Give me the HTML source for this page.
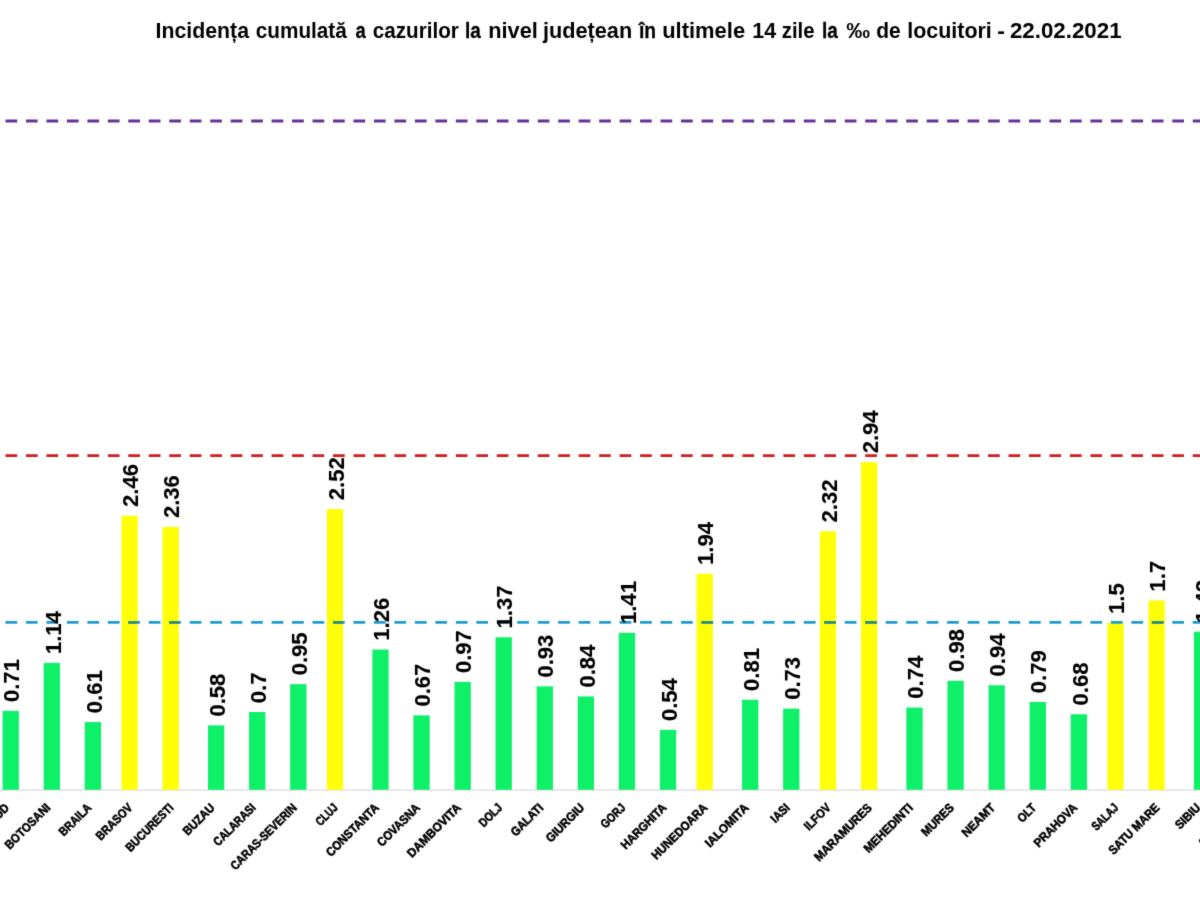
<!DOCTYPE html>
<html lang="ro"><head><meta charset="utf-8"><title>Incidenta cumulata</title>
<style>html,body{margin:0;padding:0;background:#fff;}body{width:1200px;height:900px;overflow:hidden;}svg{display:block;}text{font-family:"Liberation Sans",sans-serif;font-weight:bold;fill:#000;}</style>
</head><body>
<svg width="1200" height="900" viewBox="0 0 1200 900">
<defs><filter id="soft" x="0" y="0" width="1200" height="900" filterUnits="userSpaceOnUse" color-interpolation-filters="sRGB"><feConvolveMatrix order="3" kernelMatrix="0.012 0.084 0.012 0.084 0.616 0.084 0.012 0.084 0.012" edgeMode="duplicate" preserveAlpha="false"/></filter></defs>
<g filter="url(#soft)">
<rect x="-5" y="-5" width="1210" height="910" fill="#fff"/>
<g font-size="21.20">
<text x="155.59" y="37.80" textLength="93.42" lengthAdjust="spacingAndGlyphs">Incidența</text>
<text x="255.77" y="37.80" textLength="91.02" lengthAdjust="spacingAndGlyphs">cumulată</text>
<text x="355.57" y="37.80" textLength="10.26" lengthAdjust="spacingAndGlyphs" stroke="#000" stroke-width="0.3">a</text>
<text x="372.77" y="37.80" textLength="86.04" lengthAdjust="spacingAndGlyphs">cazurilor</text>
<text x="464.88" y="37.80" textLength="15.83" lengthAdjust="spacingAndGlyphs" stroke="#000" stroke-width="0.3">la</text>
<text x="488.22" y="37.80" textLength="49.62" lengthAdjust="spacingAndGlyphs">nivel</text>
<text x="543.01" y="37.80" textLength="89.14" lengthAdjust="spacingAndGlyphs">județean</text>
<text x="638.91" y="37.80" textLength="17.09" lengthAdjust="spacingAndGlyphs" stroke="#000" stroke-width="0.3">în</text>
<text x="662.21" y="37.80" textLength="82.89" lengthAdjust="spacingAndGlyphs">ultimele</text>
<text x="752.24" y="37.80" textLength="23.84" lengthAdjust="spacingAndGlyphs">14</text>
<text x="781.78" y="37.80" textLength="32.85" lengthAdjust="spacingAndGlyphs">zile</text>
<text x="821.88" y="37.80" textLength="15.83" lengthAdjust="spacingAndGlyphs" stroke="#000" stroke-width="0.3">la</text>
<text x="846.22" y="37.80" textLength="23.77" lengthAdjust="spacingAndGlyphs">‰</text>
<text x="876.26" y="37.80" textLength="24.47" lengthAdjust="spacingAndGlyphs">de</text>
<text x="907.23" y="37.80" textLength="84.61" lengthAdjust="spacingAndGlyphs">locuitori</text>
<text x="997.18" y="37.80" textLength="7.70" lengthAdjust="spacingAndGlyphs">-</text>
<text x="1009.97" y="37.80" textLength="111.60" lengthAdjust="spacingAndGlyphs">22.02.2021</text>
</g>
<rect x="0" y="789.5" width="1200" height="1.1" fill="#d6d6d6"/>
<rect x="2.60" y="710.90" width="16.30" height="78.90" fill="#0ff069"/>
<rect x="43.68" y="662.93" width="16.30" height="126.87" fill="#0ff069"/>
<rect x="84.76" y="722.05" width="16.30" height="67.75" fill="#0ff069"/>
<rect x="121.44" y="515.69" width="16.30" height="274.11" fill="#ffff0a"/>
<rect x="162.52" y="526.84" width="16.30" height="262.96" fill="#ffff0a"/>
<rect x="208.00" y="725.40" width="16.30" height="64.40" fill="#0ff069"/>
<rect x="249.08" y="712.01" width="16.30" height="77.78" fill="#0ff069"/>
<rect x="290.16" y="684.13" width="16.30" height="105.67" fill="#0ff069"/>
<rect x="326.84" y="508.99" width="16.30" height="280.81" fill="#ffff0a"/>
<rect x="372.32" y="649.55" width="16.30" height="140.25" fill="#0ff069"/>
<rect x="413.40" y="715.36" width="16.30" height="74.44" fill="#0ff069"/>
<rect x="454.48" y="681.90" width="16.30" height="107.90" fill="#0ff069"/>
<rect x="495.56" y="637.28" width="16.30" height="152.52" fill="#0ff069"/>
<rect x="536.64" y="686.36" width="16.30" height="103.44" fill="#0ff069"/>
<rect x="577.72" y="696.40" width="16.30" height="93.40" fill="#0ff069"/>
<rect x="618.80" y="632.81" width="16.30" height="156.99" fill="#0ff069"/>
<rect x="659.88" y="729.86" width="16.30" height="59.94" fill="#0ff069"/>
<rect x="696.56" y="573.69" width="16.30" height="216.11" fill="#ffff0a"/>
<rect x="742.04" y="699.74" width="16.30" height="90.06" fill="#0ff069"/>
<rect x="783.12" y="708.67" width="16.30" height="81.13" fill="#0ff069"/>
<rect x="819.80" y="531.30" width="16.30" height="258.50" fill="#ffff0a"/>
<rect x="860.88" y="462.14" width="16.30" height="327.66" fill="#ffff0a"/>
<rect x="906.36" y="707.55" width="16.30" height="82.25" fill="#0ff069"/>
<rect x="947.44" y="680.78" width="16.30" height="109.02" fill="#0ff069"/>
<rect x="988.52" y="685.24" width="16.30" height="104.56" fill="#0ff069"/>
<rect x="1029.60" y="701.98" width="16.30" height="87.82" fill="#0ff069"/>
<rect x="1070.68" y="714.25" width="16.30" height="75.55" fill="#0ff069"/>
<rect x="1107.36" y="622.78" width="16.30" height="167.02" fill="#ffff0a"/>
<rect x="1148.44" y="600.47" width="16.30" height="189.33" fill="#ffff0a"/>
<rect x="1193.92" y="631.70" width="16.30" height="158.10" fill="#0ff069"/>
<rect x="1235.00" y="656.24" width="16.30" height="133.56" fill="#0ff069"/>
<line x1="5.5" y1="121.00" x2="1215" y2="121.00" stroke="#66309a" stroke-width="2.9" stroke-dasharray="11.7 8.77" />
<line x1="5.5" y1="455.60" x2="1215" y2="455.60" stroke="#d41c1c" stroke-width="2.9" stroke-dasharray="11.7 8.77" />
<line x1="5.5" y1="622.40" x2="1215" y2="622.40" stroke="#1e9bd0" stroke-width="2.9" stroke-dasharray="11.7 8.77" />
<clipPath id="yb">
<rect x="121.44" y="600" width="16.30" height="40"/>
<rect x="162.52" y="600" width="16.30" height="40"/>
<rect x="326.84" y="600" width="16.30" height="40"/>
<rect x="696.56" y="600" width="16.30" height="40"/>
<rect x="819.80" y="600" width="16.30" height="40"/>
<rect x="860.88" y="600" width="16.30" height="40"/>
<rect x="1148.44" y="600" width="16.30" height="40"/>
</clipPath>
<g clip-path="url(#yb)">
<line x1="5.5" y1="622.40" x2="1215" y2="622.40" stroke="#2f8f78" stroke-width="2.9" stroke-dasharray="11.7 8.77" />
</g>
<g font-size="22.3" stroke="#000" stroke-width="0.12">
<text transform="translate(19.45,702.10) rotate(-90)" textLength="42.91" lengthAdjust="spacingAndGlyphs">0.71</text>
<text transform="translate(60.53,654.13) rotate(-90)" textLength="42.91" lengthAdjust="spacingAndGlyphs">1.14</text>
<text transform="translate(101.61,713.25) rotate(-90)" textLength="42.91" lengthAdjust="spacingAndGlyphs">0.61</text>
<text transform="translate(138.29,506.89) rotate(-90)" textLength="42.91" lengthAdjust="spacingAndGlyphs">2.46</text>
<text transform="translate(179.37,518.04) rotate(-90)" textLength="42.91" lengthAdjust="spacingAndGlyphs">2.36</text>
<text transform="translate(224.85,716.60) rotate(-90)" textLength="42.91" lengthAdjust="spacingAndGlyphs">0.58</text>
<text transform="translate(265.93,703.22) rotate(-90)" textLength="30.74" lengthAdjust="spacingAndGlyphs">0.7</text>
<text transform="translate(307.01,675.33) rotate(-90)" textLength="42.91" lengthAdjust="spacingAndGlyphs">0.95</text>
<text transform="translate(343.69,500.19) rotate(-90)" textLength="42.91" lengthAdjust="spacingAndGlyphs">2.52</text>
<text transform="translate(389.17,640.75) rotate(-90)" textLength="42.91" lengthAdjust="spacingAndGlyphs">1.26</text>
<text transform="translate(430.25,706.56) rotate(-90)" textLength="42.91" lengthAdjust="spacingAndGlyphs">0.67</text>
<text transform="translate(471.33,673.10) rotate(-90)" textLength="42.91" lengthAdjust="spacingAndGlyphs">0.97</text>
<text transform="translate(512.41,628.48) rotate(-90)" textLength="42.91" lengthAdjust="spacingAndGlyphs">1.37</text>
<text transform="translate(553.49,677.56) rotate(-90)" textLength="42.91" lengthAdjust="spacingAndGlyphs">0.93</text>
<text transform="translate(594.57,687.60) rotate(-90)" textLength="42.91" lengthAdjust="spacingAndGlyphs">0.84</text>
<text transform="translate(635.65,624.01) rotate(-90)" textLength="42.91" lengthAdjust="spacingAndGlyphs">1.41</text>
<text transform="translate(676.73,721.06) rotate(-90)" textLength="42.91" lengthAdjust="spacingAndGlyphs">0.54</text>
<text transform="translate(713.41,564.89) rotate(-90)" textLength="42.91" lengthAdjust="spacingAndGlyphs">1.94</text>
<text transform="translate(758.89,690.94) rotate(-90)" textLength="42.91" lengthAdjust="spacingAndGlyphs">0.81</text>
<text transform="translate(799.97,699.87) rotate(-90)" textLength="42.91" lengthAdjust="spacingAndGlyphs">0.73</text>
<text transform="translate(836.65,522.50) rotate(-90)" textLength="42.91" lengthAdjust="spacingAndGlyphs">2.32</text>
<text transform="translate(877.73,453.34) rotate(-90)" textLength="42.91" lengthAdjust="spacingAndGlyphs">2.94</text>
<text transform="translate(923.21,698.75) rotate(-90)" textLength="42.91" lengthAdjust="spacingAndGlyphs">0.74</text>
<text transform="translate(964.29,671.98) rotate(-90)" textLength="42.91" lengthAdjust="spacingAndGlyphs">0.98</text>
<text transform="translate(1005.37,676.44) rotate(-90)" textLength="42.91" lengthAdjust="spacingAndGlyphs">0.94</text>
<text transform="translate(1046.45,693.18) rotate(-90)" textLength="42.91" lengthAdjust="spacingAndGlyphs">0.79</text>
<text transform="translate(1087.53,705.45) rotate(-90)" textLength="42.91" lengthAdjust="spacingAndGlyphs">0.68</text>
<text transform="translate(1124.21,613.98) rotate(-90)" textLength="30.74" lengthAdjust="spacingAndGlyphs">1.5</text>
<text transform="translate(1165.29,591.67) rotate(-90)" textLength="30.74" lengthAdjust="spacingAndGlyphs">1.7</text>
<text transform="translate(1210.77,622.90) rotate(-90)" textLength="42.91" lengthAdjust="spacingAndGlyphs">1.42</text>
<text transform="translate(1251.85,647.44) rotate(-90)" textLength="30.74" lengthAdjust="spacingAndGlyphs">1.2</text>
</g>
<g font-size="12.4" text-anchor="end" stroke="#000" stroke-width="0.55">
<text transform="translate(10.00,808.50) rotate(-45)" textLength="101.83" lengthAdjust="spacingAndGlyphs">BISTRITA-NASAUD</text>
<text transform="translate(51.08,808.50) rotate(-45)" textLength="58.54" lengthAdjust="spacingAndGlyphs">BOTOSANI</text>
<text transform="translate(92.16,808.50) rotate(-45)" textLength="40.05" lengthAdjust="spacingAndGlyphs">BRAILA</text>
<text transform="translate(133.24,808.50) rotate(-45)" textLength="45.97" lengthAdjust="spacingAndGlyphs">BRASOV</text>
<text transform="translate(174.32,808.50) rotate(-45)" textLength="62.13" lengthAdjust="spacingAndGlyphs">BUCURESTI</text>
<text transform="translate(215.40,808.50) rotate(-45)" textLength="39.05" lengthAdjust="spacingAndGlyphs">BUZAU</text>
<text transform="translate(256.48,808.50) rotate(-45)" textLength="54.01" lengthAdjust="spacingAndGlyphs">CALARASI</text>
<text transform="translate(297.56,808.50) rotate(-45)" textLength="87.86" lengthAdjust="spacingAndGlyphs">CARAS-SEVERIN</text>
<text transform="translate(338.64,808.50) rotate(-45)" textLength="25.51" lengthAdjust="spacingAndGlyphs">CLUJ</text>
<text transform="translate(379.72,808.50) rotate(-45)" textLength="69.00" lengthAdjust="spacingAndGlyphs">CONSTANTA</text>
<text transform="translate(420.80,808.50) rotate(-45)" textLength="54.90" lengthAdjust="spacingAndGlyphs">COVASNA</text>
<text transform="translate(461.88,808.50) rotate(-45)" textLength="70.44" lengthAdjust="spacingAndGlyphs">DAMBOVITA</text>
<text transform="translate(502.96,808.50) rotate(-45)" textLength="27.17" lengthAdjust="spacingAndGlyphs">DOLJ</text>
<text transform="translate(544.04,808.50) rotate(-45)" textLength="40.15" lengthAdjust="spacingAndGlyphs">GALATI</text>
<text transform="translate(585.12,808.50) rotate(-45)" textLength="48.73" lengthAdjust="spacingAndGlyphs">GIURGIU</text>
<text transform="translate(626.20,808.50) rotate(-45)" textLength="29.13" lengthAdjust="spacingAndGlyphs">GORJ</text>
<text transform="translate(667.28,808.50) rotate(-45)" textLength="58.85" lengthAdjust="spacingAndGlyphs">HARGHITA</text>
<text transform="translate(708.36,808.50) rotate(-45)" textLength="73.19" lengthAdjust="spacingAndGlyphs">HUNEDOARA</text>
<text transform="translate(749.44,808.50) rotate(-45)" textLength="55.89" lengthAdjust="spacingAndGlyphs">IALOMITA</text>
<text transform="translate(790.52,808.50) rotate(-45)" textLength="21.21" lengthAdjust="spacingAndGlyphs">IASI</text>
<text transform="translate(831.60,808.50) rotate(-45)" textLength="31.91" lengthAdjust="spacingAndGlyphs">ILFOV</text>
<text transform="translate(872.68,808.50) rotate(-45)" textLength="75.70" lengthAdjust="spacingAndGlyphs">MARAMURES</text>
<text transform="translate(913.76,808.50) rotate(-45)" textLength="63.69" lengthAdjust="spacingAndGlyphs">MEHEDINTI</text>
<text transform="translate(954.84,808.50) rotate(-45)" textLength="40.38" lengthAdjust="spacingAndGlyphs">MURES</text>
<text transform="translate(995.92,808.50) rotate(-45)" textLength="41.33" lengthAdjust="spacingAndGlyphs">NEAMT</text>
<text transform="translate(1037.00,808.50) rotate(-45)" textLength="20.95" lengthAdjust="spacingAndGlyphs">OLT</text>
<text transform="translate(1078.08,808.50) rotate(-45)" textLength="55.77" lengthAdjust="spacingAndGlyphs">PRAHOVA</text>
<text transform="translate(1119.16,808.50) rotate(-45)" textLength="32.22" lengthAdjust="spacingAndGlyphs">SALAJ</text>
<text transform="translate(1160.24,808.50) rotate(-45)" textLength="66.15" lengthAdjust="spacingAndGlyphs">SATU MARE</text>
<text transform="translate(1201.32,808.50) rotate(-45)" textLength="30.11" lengthAdjust="spacingAndGlyphs">SIBIU</text>
<text transform="translate(1242.40,808.50) rotate(-45)" textLength="54.81" lengthAdjust="spacingAndGlyphs">SUCEAVA</text>
</g>
</g>
</svg>
</body></html>
